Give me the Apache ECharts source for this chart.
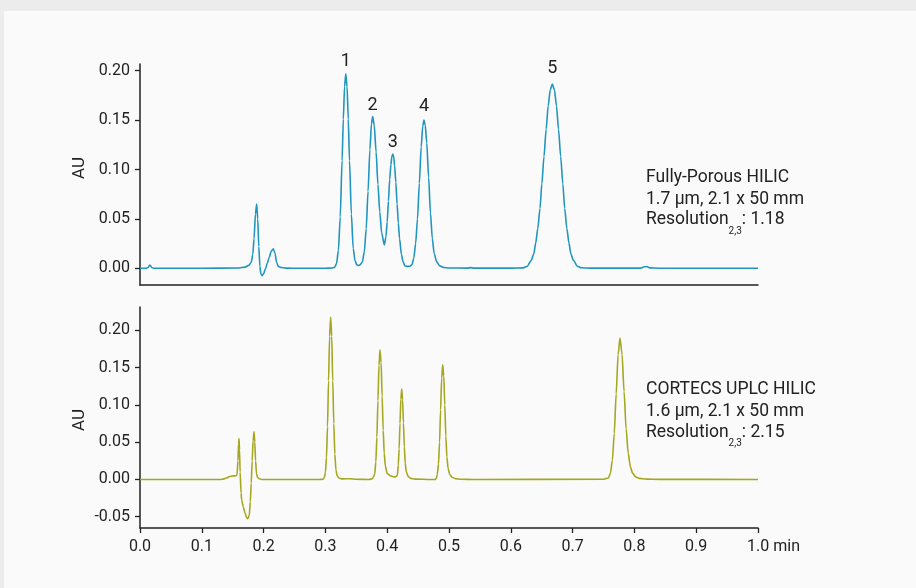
<!DOCTYPE html>
<html><head><meta charset="utf-8">
<script src="https://cdn.jsdelivr.net/npm/echarts@6/dist/echarts.min.js"></script>
<style>
html,body{margin:0;padding:0;width:916px;height:588px;background:#ececec;overflow:hidden}
#card{position:absolute;left:4px;top:11px;right:0;bottom:0;background:#fafafa}
#chart{position:absolute;left:0;top:0;width:916px;height:588px}
</style></head><body><div id="card"></div><div id="chart"></div>
<script>
// ---- Data ----
const topTime = [0,0.010,0.013,0.016,0.019,0.022,0.100,0.160,0.170,0.176,0.180,0.1825,0.1845,0.1868,0.1888,0.1905,0.1922,0.194,0.1955,0.1975,0.200,0.203,0.206,0.209,0.2125,0.2157,0.2185,0.221,0.224,0.228,0.236,0.260,0.300,0.310,0.315,0.318,0.321,0.324,0.327,0.329,0.331,0.333,0.335,0.337,0.339,0.342,0.345,0.348,0.351,0.353,0.356,0.360,0.363,0.366,0.369,0.372,0.3745,0.3765,0.379,0.382,0.385,0.388,0.391,0.3953,0.398,0.400,0.402,0.404,0.406,0.4075,0.409,0.4105,0.412,0.414,0.416,0.418,0.420,0.423,0.426,0.4288,0.432,0.436,0.440,0.443,0.446,0.449,0.452,0.455,0.4575,0.4595,0.4615,0.464,0.467,0.470,0.473,0.476,0.480,0.485,0.492,0.500,0.530,0.535,0.540,0.600,0.620,0.6267,0.6332,0.6372,0.6402,0.6437,0.6472,0.6502,0.6537,0.6572,0.6605,0.6638,0.6672,0.6706,0.6739,0.6772,0.6807,0.6842,0.6872,0.6907,0.6942,0.6972,0.7012,0.7077,0.714,0.730,0.810,0.816,0.820,0.825,0.840,1.000];
const topAU = [0,0,0.0008,0.0034,0.0008,0.0001,0,0.0003,0.0012,0.003,0.006,0.014,0.030,0.055,0.065,0.050,0.022,0.002,-0.0055,-0.0074,-0.0055,-0.0005,0.005,0.011,0.0175,0.0198,0.015,0.006,0.0018,0.0008,0.0002,0,0.0001,0.0003,0.001,0.0048,0.018,0.052,0.109,0.151,0.184,0.197,0.184,0.151,0.109,0.055,0.020,0.0075,0.0035,0.0028,0.0035,0.0065,0.017,0.040,0.078,0.120,0.146,0.1536,0.145,0.118,0.085,0.057,0.036,0.0236,0.032,0.047,0.068,0.090,0.105,0.113,0.1157,0.113,0.104,0.087,0.065,0.046,0.030,0.014,0.006,0.0025,0.002,0.002,0.0035,0.010,0.025,0.050,0.086,0.123,0.144,0.150,0.145,0.127,0.092,0.056,0.030,0.015,0.0065,0.0025,0.0008,0.0003,0.0002,0.0007,0.0002,0.0002,0.0004,0.0021,0.0082,0.0148,0.0252,0.0403,0.0606,0.0854,0.1132,0.1408,0.1645,0.1807,0.1865,0.1807,0.1645,0.1408,0.1132,0.0854,0.0606,0.0403,0.0252,0.0148,0.0082,0.0021,0.0005,0.0002,0.0002,0.0015,0.0018,0.0004,0.0001,0];

const botTime = [0,0.130,0.135,0.140,0.145,0.150,0.155,0.157,0.1585,0.1595,0.1602,0.161,0.162,0.1635,0.1646,0.1672,0.170,0.1725,0.1743,0.1769,0.1785,0.180,0.1815,0.183,0.1845,0.1858,0.187,0.1885,0.190,0.193,0.197,0.290,0.296,0.2985,0.300,0.3017,0.3034,0.3051,0.3068,0.3085,0.3102,0.3119,0.3136,0.3153,0.317,0.319,0.322,0.327,0.340,0.350,0.370,0.376,0.3782,0.3799,0.3816,0.3833,0.385,0.3867,0.3884,0.3901,0.3918,0.3935,0.3952,0.397,0.400,0.405,0.409,0.4115,0.4145,0.4165,0.4179,0.4193,0.4207,0.4221,0.4235,0.4249,0.4263,0.4277,0.4291,0.431,0.434,0.438,0.445,0.470,0.478,0.4796,0.481,0.483,0.4847,0.4864,0.4881,0.4898,0.4915,0.4932,0.4949,0.4966,0.4985,0.501,0.505,0.510,0.520,0.540,0.750,0.7581,0.7612,0.7643,0.7674,0.7705,0.7736,0.7767,0.7800,0.7833,0.7866,0.790,0.7935,0.797,0.802,0.808,0.820,0.840,1.000];
const botAU = [0,0,0.0005,0.002,0.004,0.0048,0.005,0.006,0.025,0.048,0.055,0.040,0.010,-0.018,-0.028,-0.037,-0.045,-0.051,-0.0525,-0.048,-0.030,-0.005,0.025,0.052,0.064,0.050,0.025,0.008,0.003,0.001,0,0,0.0003,0.0029,0.0096,0.0294,0.0709,0.1323,0.1923,0.218,0.1923,0.1323,0.075,0.034,0.013,0.005,0.002,0.0008,0.001,0.0003,0,0.001,0.004,0.0077,0.0235,0.0566,0.1056,0.1535,0.174,0.157,0.112,0.066,0.035,0.018,0.008,0.005,0.004,0.0035,0.004,0.006,0.019,0.041,0.075,0.108,0.1215,0.107,0.076,0.044,0.022,0.010,0.004,0.0015,0.0005,0,0,0.0018,0.0068,0.0208,0.050,0.0933,0.1357,0.1538,0.139,0.100,0.058,0.030,0.015,0.007,0.003,0.0012,0.0003,0,0.0003,0.0021,0.0084,0.0256,0.0617,0.1152,0.1674,0.1897,0.168,0.118,0.068,0.035,0.017,0.0085,0.0035,0.0015,0.0005,0.0002,0];

const peakNames = ['1','2','3','4','5'];
const peakTimes = [0.333,0.3765,0.409,0.4595,0.6672];
const peakHeights = [0.197,0.1536,0.1157,0.150,0.1865];

const topTicks = [0,0.05,0.10,0.15,0.20];
const botTicks = [-0.05,0,0.05,0.10,0.15,0.20];

const topInfo = ['Fully-Porous HILIC','1.7 µm, 2.1 x 50 mm','1.18'];
const botInfo = ['CORTECS UPLC HILIC','1.6 µm, 2.1 x 50 mm','2.15'];

// ---- Styles ----
const FONT = 'Roboto';
const INK = '#222222';
const labelGap = [3,1.8,3,4.3,6.3];

const topData = topTime.map((t,i)=>[t, topAU[i]]);
const botData = botTime.map((t,i)=>[t, botAU[i]]);

const axisLine = {show:true, onZero:false, lineStyle:{color:INK, width:1.5}};
const yLabel = {fontSize:16, color:INK, fontFamily:FONT, margin:10, formatter:v=>v.toFixed(2)};

function infoTexts(lines, x, ys){
  return [
    {type:'text', x:x, y:ys[0], style:{text:lines[0], fontSize:17.5, fontFamily:FONT, fill:INK, align:'left', verticalAlign:'middle'}},
    {type:'text', x:x, y:ys[1], style:{text:lines[1], fontSize:17.5, fontFamily:FONT, fill:INK, align:'left', verticalAlign:'middle'}},
    {type:'text', x:x, y:ys[2], style:{text:'{m|Resolution}{s|2,3}{m|: '+lines[2]+'}', align:'left', verticalAlign:'middle',
      rich:{m:{fontSize:17.5, fontFamily:FONT, fill:INK, lineHeight:32}, s:{fontSize:10, fontFamily:FONT, fill:INK, lineHeight:10, verticalAlign:'bottom'}}}}
  ];
}

const chart = echarts.init(document.getElementById('chart'), null, {renderer:'canvas'});
chart.setOption({
  animation:false,
  backgroundColor:'transparent',
  grid:[
    {left:140, right:158, top:64, height:221, outerBoundsMode:'none'},
    {left:140, right:158, top:307, height:221, outerBoundsMode:'none'}
  ],
  xAxis:[
    {gridIndex:0, type:'value', min:0, max:1, interval:0.1, axisLine:axisLine, axisTick:{show:false}, axisLabel:{show:false}, splitLine:{show:false}},
    {gridIndex:1, type:'value', min:0, max:1, interval:0.1, axisLine:axisLine,
      axisTick:{show:true, length:5, lineStyle:{color:INK, width:1.3}},
      axisLabel:{fontSize:16, color:INK, fontFamily:FONT, margin:11,
        formatter:v=> Math.abs(v-1)<1e-9 ? '{pad| }1.0 min' : v.toFixed(1),
        rich:{pad:{width:31, fontSize:16}}},
      splitLine:{show:false}}
  ],
  yAxis:[
    {gridIndex:0, type:'value', min:-0.0169, max:0.2068, axisLine:axisLine,
      axisTick:{show:true, length:5, customValues:topTicks, lineStyle:{color:INK, width:1.3}},
      axisLabel:Object.assign({customValues:topTicks}, yLabel), splitLine:{show:false}},
    {gridIndex:1, type:'value', min:-0.0651, max:0.2315, axisLine:axisLine,
      axisTick:{show:true, length:5, customValues:botTicks, lineStyle:{color:INK, width:1.3}},
      axisLabel:Object.assign({customValues:botTicks}, yLabel), splitLine:{show:false}}
  ],
  series:[
    {type:'line', xAxisIndex:0, yAxisIndex:0, data:topData, showSymbol:false, smooth:0.25, smoothMonotone:'x',
      lineStyle:{color:'#1f95bf', width:1.6}, silent:true,
      markPoint:{symbol:'circle', symbolSize:0, silent:true,
        label:{show:true, position:'top', formatter:p=>p.name, fontSize:18, color:INK, fontFamily:FONT},
        data:peakNames.map((n,i)=>({name:n, coord:[peakTimes[i], peakHeights[i]], label:{distance:labelGap[i]}}))}},
    {type:'line', xAxisIndex:1, yAxisIndex:1, data:botData, showSymbol:false, smooth:0.25, smoothMonotone:'x',
      lineStyle:{color:'#a4a71f', width:1.6}, silent:true}
  ],
  graphic:[
    {type:'text', x:80, y:168, rotation:Math.PI/2, style:{text:'AU', fontSize:17, fontFamily:FONT, fill:INK, align:'center', verticalAlign:'middle'}},
    {type:'text', x:80, y:420, rotation:Math.PI/2, style:{text:'AU', fontSize:17, fontFamily:FONT, fill:INK, align:'center', verticalAlign:'middle'}}
  ].concat(infoTexts(topInfo, 646, [178,199.3,220]), infoTexts(botInfo, 646, [390,411.7,432.7]))
});
</script></body></html>
